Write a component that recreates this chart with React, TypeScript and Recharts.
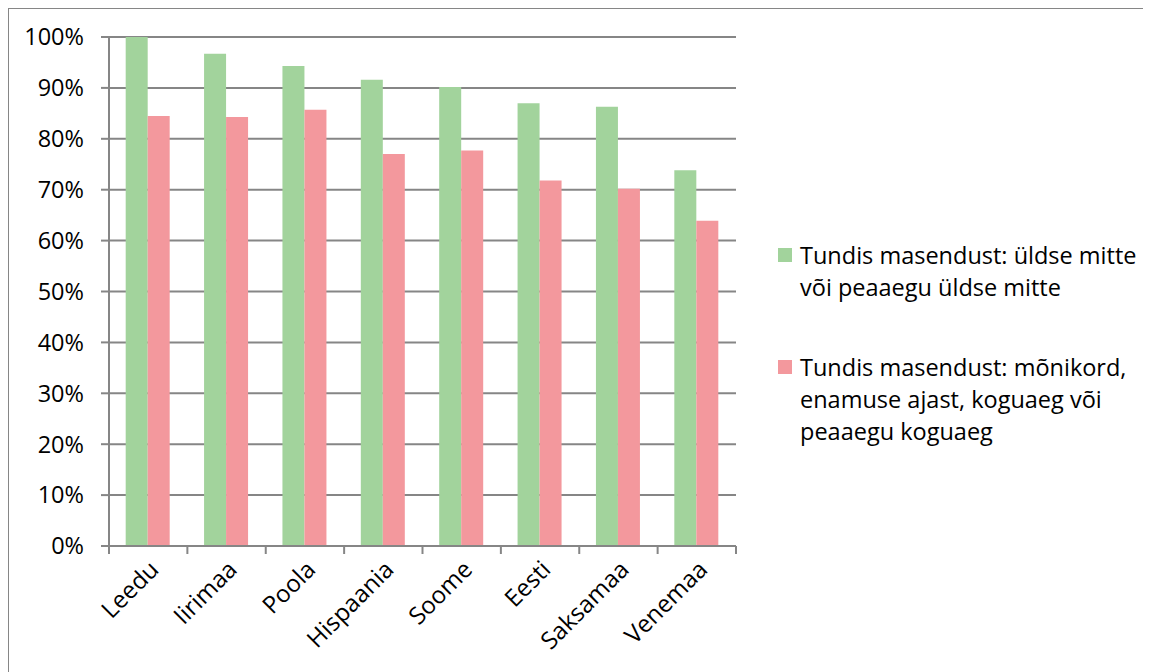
import { BarChart, Bar, XAxis, YAxis, CartesianGrid, Legend } from 'recharts';

const categories = ['Leedu', 'Iirimaa', 'Poola', 'Hispaania', 'Soome', 'Eesti', 'Saksamaa', 'Venemaa'];
const notDepressed = [100, 96.7, 94.3, 91.6, 90.2, 87.0, 86.3, 73.8];
const depressed = [84.5, 84.3, 85.7, 77.0, 77.7, 71.8, 70.2, 63.9];
const yTicks = [0, 10, 20, 30, 40, 50, 60, 70, 80, 90, 100];

const seriesNames = [
  'Tundis masendust: üldse mitte või peaaegu üldse mitte',
  'Tundis masendust: mõnikord, enamuse ajast, koguaeg või peaaegu koguaeg',
];
const colors = ['#A2D39C', '#F3989D'];

const data = categories.map((name, i) => ({
  name,
  a: notDepressed[i],
  b: depressed[i],
}));

const FONT = '"Open Sans", sans-serif';
const AXIS = '#868686';

// category tick: boundary tick marks + rotated label
function CategoryTick(props: any) {
  const { x, y, payload, index, width, visibleTicksCount } = props;
  const band = width / visibleTicksCount;
  const last = index === visibleTicksCount - 1;
  const tx = x + 12;
  const ty = y + 25;
  return (
    <g>
      <line x1={x - band / 2} x2={x - band / 2} y1={y} y2={y + 8} stroke={AXIS} strokeWidth={2} />
      {last && <line x1={x + band / 2} x2={x + band / 2} y1={y} y2={y + 8} stroke={AXIS} strokeWidth={2} />}
      <text
        x={tx}
        y={ty}
        transform={`rotate(-45, ${tx}, ${ty})`}
        textAnchor="end"
        fontFamily={FONT}
        fontSize={24}
        fill="#000"
      >
        {payload.value}
      </text>
    </g>
  );
}

function LegendBox(props: any) {
  const items = [...props.payload].sort((p: any, q: any) => String(p.dataKey).localeCompare(String(q.dataKey)));
  return (
    <div style={{ fontFamily: FONT, fontSize: 23.5, lineHeight: '32px', color: '#000' }}>
      {items.map((p: any, i: number) => (
        <div key={p.value} style={{ display: 'flex', marginBottom: i === 0 ? 48 : 0 }}>
          <div style={{ width: 14, height: 14, background: p.color, marginTop: 9, marginRight: 8, flexShrink: 0 }} />
          <div style={{ width: 345 }}>{p.value}</div>
        </div>
      ))}
    </div>
  );
}

export default function App() {
  return (
    <div
      style={{
        width: 1142,
        height: 663,
        borderLeft: `1px solid ${AXIS}`,
        borderTop: `1px solid ${AXIS}`,
        position: 'relative',
      }}
    >
      <BarChart
        width={1142}
        height={663}
        data={data}
        margin={{ top: 28, right: 415, bottom: 6, left: 0 }}
        barCategoryGap="21.3%"
        barGap={0}
      >
        <CartesianGrid vertical={false} stroke={AXIS} strokeWidth={2} />
        <XAxis
          dataKey="name"
          height={120}
          axisLine={{ stroke: AXIS, strokeWidth: 2 }}
          tickLine={false}
          tickSize={0}
          tickMargin={0}
          interval={0}
          tick={<CategoryTick />}
        />
        <YAxis
          width={100}
          domain={[0, 100]}
          ticks={yTicks}
          tickFormatter={(v) => `${v}%`}
          axisLine={{ stroke: AXIS, strokeWidth: 2 }}
          tickLine={{ stroke: AXIS, strokeWidth: 2 }}
          tickSize={8}
          tickMargin={17}
          tick={{ fontFamily: FONT, fontSize: 23.5, fill: '#000' }}
        />
        <Legend
          layout="vertical"
          align="center"
          verticalAlign="middle"
          wrapperStyle={{ left: 769, top: 230, width: 375 }}
          content={<LegendBox />}
        />
        <Bar dataKey="a" name={seriesNames[0]} fill={colors[0]} isAnimationActive={false} />
        <Bar dataKey="b" name={seriesNames[1]} fill={colors[1]} isAnimationActive={false} />
      </BarChart>
    </div>
  );
}
